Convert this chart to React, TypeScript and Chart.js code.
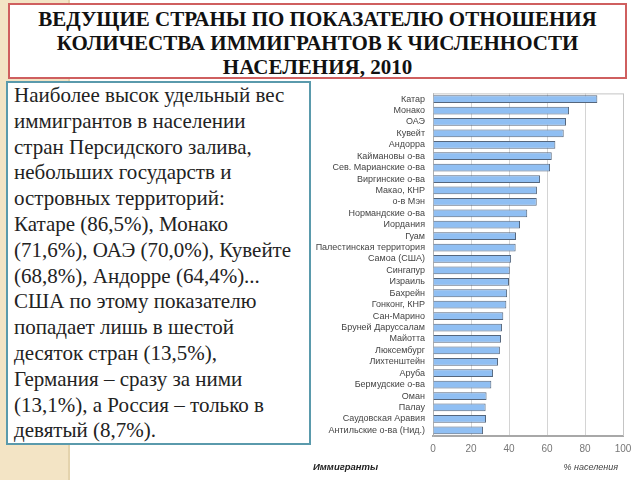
import React, { useEffect, useRef } from "react";
import { Chart, registerables } from "chart.js";

Chart.register(...registerables);

const categories = [
  "Катар",
  "Монако",
  "ОАЭ",
  "Кувейт",
  "Андорра",
  "Каймановы о-ва",
  "Сев. Марианские о-ва",
  "Виргинские о-ва",
  "Макао, КНР",
  "о-в Мэн",
  "Нормандские о-ва",
  "Иордания",
  "Гуам",
  "Палестинская территория",
  "Самоа (США)",
  "Сингапур",
  "Израиль",
  "Бахрейн",
  "Гонконг, КНР",
  "Сан-Марино",
  "Бруней Даруссалам",
  "Майотта",
  "Люксембург",
  "Лихтенштейн",
  "Аруба",
  "Бермудские о-ва",
  "Оман",
  "Палау",
  "Саудовская Аравия",
  "Антильские о-ва (Нид.)",
];

const immigrantsShare = [
  86.5, 71.6, 70.0, 68.8, 64.4, 62.5, 61.6, 56.3, 54.7, 54.6, 49.6, 45.8, 43.7,
  43.5, 41.1, 40.4, 40.0, 39.0, 38.6, 37.0, 36.3, 35.8, 35.2, 34.2, 31.6, 30.7,
  28.2, 27.7, 27.9, 26.3,
];

const xTicks = [0, 20, 40, 60, 80, 100];

const titleLines = [
  "ВЕДУЩИЕ СТРАНЫ ПО ПОКАЗАТЕЛЮ ОТНОШЕНИЯ",
  "КОЛИЧЕСТВА ИММИГРАНТОВ К ЧИСЛЕННОСТИ",
  "НАСЕЛЕНИЯ, 2010",
];

const bodyLines = [
  "Наиболее высок удельный вес",
  "иммигрантов в населении",
  "стран Персидского залива,",
  "небольших государств и",
  "островных территорий:",
  "Катаре (86,5%), Монако",
  "(71,6%), ОАЭ (70,0%), Кувейте",
  "(68,8%), Андорре (64,4%)...",
  "США по этому показателю",
  "попадает лишь в шестой",
  "десяток стран (13,5%),",
  "Германия – сразу за ними",
  "(13,1%), а Россия – только в",
  "девятый (8,7%).",
];

const footerLeft = "Иммигранты";
const footerRight = "% населения";

const framePlugin = {
  id: "frameAndFooter",
  beforeDatasetsDraw(chart: any) {
    const { ctx, chartArea } = chart;
    ctx.save();
    ctx.strokeStyle = "#c4c4c4";
    ctx.lineWidth = 1;
    ctx.beginPath();
    ctx.moveTo(chartArea.left, chartArea.top + 0.5);
    ctx.lineTo(chartArea.right + 0.5, chartArea.top + 0.5);
    ctx.lineTo(chartArea.right + 0.5, chartArea.bottom);
    ctx.stroke();
    ctx.restore();
  },
  afterDraw(chart: any) {
    const { ctx, chartArea } = chart;
    const y = chartArea.bottom + 31;
    ctx.save();
    ctx.textBaseline = "middle";
    ctx.fillStyle = "#222";
    ctx.font = "italic bold 9.5px 'Liberation Sans', Arial, sans-serif";
    ctx.textAlign = "left";
    ctx.fillText(footerLeft, 1, y);
    ctx.fillStyle = "#444";
    ctx.font = "italic 9px 'Liberation Sans', Arial, sans-serif";
    ctx.textAlign = "right";
    ctx.fillText(footerRight, chartArea.right - 5, y);
    ctx.restore();
  },
};

export default function App() {
  const canvasRef = useRef<HTMLCanvasElement | null>(null);

  useEffect(() => {
    if (!canvasRef.current) return;
    const chart = new Chart(canvasRef.current, {
      type: "bar",
      data: {
        labels: categories,
        datasets: [
          {
            data: immigrantsShare,
            backgroundColor: "#90bff3",
            borderColor: "#55667c",
            borderWidth: 1,
            categoryPercentage: 1,
            barPercentage: 0.68,
          },
        ],
      },
      options: {
        indexAxis: "y",
        animation: false,
        responsive: false,
        devicePixelRatio: 1,
        layout: { padding: { top: 0, right: 17, left: 0, bottom: 24 } },
        plugins: {
          legend: { display: false },
          tooltip: { enabled: false },
          title: { display: false },
        },
        scales: {
          x: {
            min: 0,
            max: 100,
            afterBuildTicks(scale: any) {
              scale.ticks = xTicks.map((v) => ({ value: v }));
            },
            afterFit(scale: any) {
              scale.height = 20;
            },
            grid: {
              color: (c: any) => (c.tick && c.tick.value === 0 ? "rgba(0,0,0,0)" : "#d4d4d4"),
              drawTicks: false,
            },
            border: { display: true, color: "#a8a8a8", width: 2 },
            ticks: {
              padding: 7,
              color: "#777",
              font: { family: "'Liberation Sans', Arial, sans-serif", size: 10 },
            },
          },
          y: {
            afterFit(scale: any) {
              scale.width = 121;
            },
            grid: { display: false, drawTicks: false },
            border: { display: true, color: "#b0b0b0", width: 1 },
            ticks: {
              padding: 8,
              autoSkip: false,
              color: "#444",
              font: { family: "'Liberation Sans', Arial, sans-serif", size: 9 },
            },
          },
        },
      },
      plugins: [framePlugin],
    });
    return () => chart.destroy();
  }, []);

  return (
    <div
      style={{
        position: "fixed",
        left: 0,
        top: 0,
        width: 640,
        height: 480,
        background: "#ffffff",
        overflow: "hidden",
      }}
    >
      <div
        style={{
          position: "absolute",
          left: 0,
          top: 0,
          width: 68,
          height: 480,
          background: "#f3e4c5",
          borderRight: "2px solid #e4d3ad",
        }}
      />
      <div
        style={{
          position: "absolute",
          left: 8,
          top: 3,
          width: 615,
          height: 70,
          background: "#ffffff",
          border: "2px solid #cf5f5f",
          fontFamily: "'Liberation Serif', 'Times New Roman', serif",
          fontWeight: "bold",
          fontSize: 21,
          lineHeight: "24px",
          color: "#111",
          textAlign: "center",
          paddingTop: 2,
          boxSizing: "content-box",
        }}
      >
        {titleLines.map((l, i) => (
          <div key={i} style={{ whiteSpace: "nowrap" }}>
            {l}
          </div>
        ))}
      </div>
      <div
        style={{
          position: "absolute",
          left: 6,
          top: 81,
          width: 295,
          height: 360,
          background: "#ffffff",
          border: "2px solid #5a9aac",
          fontFamily: "'Liberation Serif', 'Times New Roman', serif",
          fontSize: 21,
          lineHeight: "25.8px",
          color: "#222",
          paddingLeft: 6,
          paddingTop: 0,
          boxSizing: "content-box",
          overflow: "visible",
        }}
      >
        {bodyLines.map((l, i) => (
          <div key={i} style={{ whiteSpace: "nowrap" }}>
            {l}
          </div>
        ))}
      </div>
      <canvas
        ref={canvasRef}
        width={328}
        height={400}
        style={{ position: "absolute", left: 312, top: 80, width: 328, height: 400 }}
      />
    </div>
  );
}
